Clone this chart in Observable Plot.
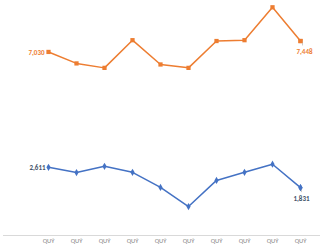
<!DOCTYPE html>
<html>
<head>
<meta charset="utf-8">
<script src="https://cdn.jsdelivr.net/npm/d3@7"></script>
<script src="https://cdn.jsdelivr.net/npm/@observablehq/plot@0.6"></script>
<style>
  html, body { margin: 0; padding: 0; background: #fff; overflow: hidden; }
  #chart svg { display: block; overflow: hidden; }
</style>
</head>
<body>
<div id="chart"></div>
<script>
const categories = ["QUÝ 1", "QUÝ 2", "QUÝ 3", "QUÝ 4", "QUÝ 5", "QUÝ 6", "QUÝ 7", "QUÝ 8", "QUÝ 9", "QUÝ 10"];
const orangeValues = [7030, 6590, 6420, 7480, 6550, 6420, 7448, 7480, 8740, 7448];
const blueValues = [2611, 2410, 2650, 2420, 1840, 1110, 2110, 2420, 2730, 1831];
const orangeLabels = [{i: 0, text: "7,030"}, {i: 9, text: "7,448"}];
const blueLabels = [{i: 0, text: "2,611"}, {i: 9, text: "1,831"}];
const leaderDrop = 170;

const orange = categories.map((c, i) => ({c, v: orangeValues[i]}));
const blue = categories.map((c, i) => ({c, v: blueValues[i]}));

const ORANGE = "#ED7D31";
const BLUE = "#4472C4";
const NAVY = "#44546A";

const chart = Plot.plot({
  width: 326,
  height: 245,
  marginLeft: 3,
  marginRight: 6,
  marginTop: 0,
  marginBottom: 10,
  style: {fontFamily: "Calibri, Carlito, 'Liberation Sans', sans-serif", background: "#fff"},
  x: {type: "point", domain: categories, padding: 0, insetLeft: 42, insetRight: 17, label: null},
  y: {domain: [0, 9000], axis: null},
  marks: [
    Plot.ruleY([0], {stroke: "#d9d9d9", strokeWidth: 1}),
    Plot.axisX({
      tickSize: 0, tickPadding: 3, fontSize: 6.5, fill: "#7f7f7f",
      tickFormat: d => "QUÝ",
      textAnchor: "middle", dy: 0
    }),
    Plot.line(orange, {x: "c", y: "v", stroke: ORANGE, strokeWidth: 1.5}),
    Plot.dot(orange, {x: "c", y: "v", symbol: "square", fill: ORANGE, r: 2.4}),
    Plot.line(blue, {x: "c", y: "v", stroke: BLUE, strokeWidth: 1.5}),
    Plot.dot(blue, {x: "c", y: "v", symbol: "diamond", fill: BLUE, r: 2.2}),
    // leader lines for last labels
    Plot.link([orangeLabels[1]], {x1: d => categories[d.i], x2: d => categories[d.i], y1: d => orangeValues[d.i], y2: d => orangeValues[d.i] - leaderDrop, dx: 2, stroke: "#bfbfbf", strokeWidth: 0.8}),
    Plot.link([blueLabels[1]], {x1: d => categories[d.i], x2: d => categories[d.i], y1: d => blueValues[d.i], y2: d => blueValues[d.i] - leaderDrop, dx: 1, stroke: "#bfbfbf", strokeWidth: 0.8}),
    Plot.dot(orange.slice(9), {x: "c", y: "v", symbol: "square", fill: ORANGE, r: 2.4}),
    Plot.dot(blue.slice(9), {x: "c", y: "v", symbol: "diamond", fill: BLUE, r: 2.2}),
    Plot.text([orangeLabels[0]], {x: d => categories[d.i], y: d => orangeValues[d.i], text: "text", textAnchor: "end", dx: -4, dy: 1, fill: ORANGE, fontSize: 7, fontWeight: "bold"}),
    Plot.text([orangeLabels[1]], {x: d => categories[d.i], y: d => orangeValues[d.i], text: "text", textAnchor: "middle", dx: 4, dy: 11, fill: ORANGE, fontSize: 7, fontWeight: "bold"}),
    Plot.text([blueLabels[0]], {x: d => categories[d.i], y: d => blueValues[d.i], text: "text", textAnchor: "end", dx: -3, dy: 0, fill: NAVY, fontSize: 7, fontWeight: "bold"}),
    Plot.text([blueLabels[1]], {x: d => categories[d.i], y: d => blueValues[d.i], text: "text", textAnchor: "middle", dx: 1, dy: 11, fill: NAVY, fontSize: 7, fontWeight: "bold"})
  ]
});
document.getElementById("chart").appendChild(chart);
</script>
</body>
</html>
